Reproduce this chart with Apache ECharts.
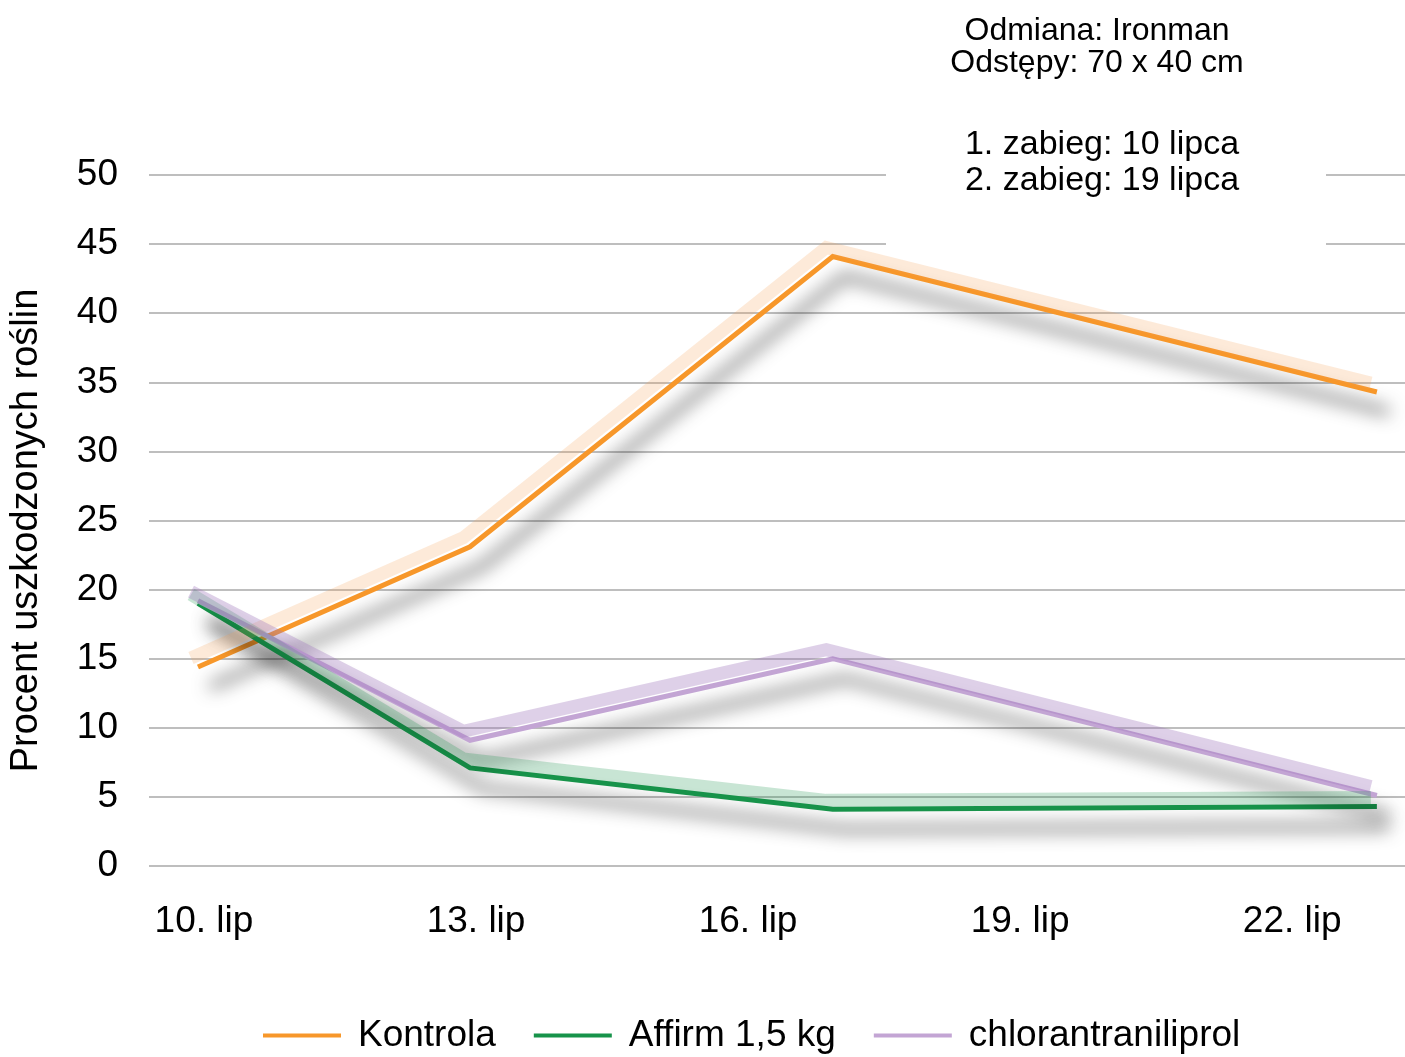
<!DOCTYPE html>
<html>
<head>
<meta charset="utf-8">
<script src="https://cdn.jsdelivr.net/npm/echarts@6/dist/echarts.min.js"></script>
<style>
  html, body { margin: 0; padding: 0; background: #fff; }
  #chart { width: 1405px; height: 1057px; }
</style>
</head>
<body>
<div id="chart"></div>
<script>
// Observation dates (day of July) and damage percentages per treatment
const days = [10, 13, 17, 23];
const kontrola = [14.4, 23.1, 44.1, 34.3];
const affirm = [19.0, 7.1, 4.1, 4.3];
const chlorantraniliprol = [19.2, 9.1, 15.0, 5.1];

const seriesNames = ['Kontrola', 'Affirm 1,5 kg', 'chlorantraniliprol'];
const tickDays = [10, 13, 16, 19, 22];
const yMin = 0, yMax = 50, yStep = 5;

const infoTop = ['Odmiana: Ironman', 'Odstępy: 70 x 40 cm'];
const infoBottom = ['1. zabieg: 10 lipca', '2. zabieg: 19 lipca'];

const FONT = '"Liberation Sans", Arial, Helvetica, sans-serif';
const lineColors = ['#F7972A', '#17934A', '#C3A5D4'];
const ribbonColors = ['rgba(248,160,80,0.22)', 'rgba(24,146,74,0.24)', 'rgba(160,120,190,0.35)'];
const values = [kontrola, affirm, chlorantraniliprol];

const pairs = v => days.map((d, i) => [d, v[i]]);

const xRange = { min: 9.46, max: 23.31 };

const mainSeries = values.map((v, i) => ({
  name: seriesNames[i],
  type: 'line',
  xAxisIndex: 0,
  yAxisIndex: 0,
  data: pairs(v),
  showSymbol: false,
  symbol: 'none',
  clip: false,
  itemStyle: { color: lineColors[i] },
  lineStyle: {
    color: lineColors[i],
    width: 5,
    join: 'miter',
    cap: 'butt',
    shadowColor: 'rgba(0,0,0,0.8)',
    shadowBlur: 18,
    shadowOffsetX: 12,
    shadowOffsetY: 20
  },
  emphasis: { disabled: true }
}));

// Pale raised band above each line, drawn on a slightly shifted copy of the plot
const ribbonSeries = values.map((v, i) => ({
  name: seriesNames[i],
  type: 'line',
  xAxisIndex: 1,
  yAxisIndex: 1,
  data: pairs(v),
  showSymbol: false,
  symbol: 'none',
  clip: false,
  lineStyle: { color: ribbonColors[i], width: 13, join: 'miter', cap: 'butt' },
  emphasis: { disabled: true },
  silent: true
}));

const chart = echarts.init(document.getElementById('chart'), null, { renderer: 'canvas' });

chart.setOption({
  animation: false,
  backgroundColor: '#fff',
  textStyle: { fontFamily: FONT },
  grid: [
    { left: 148, right: 0, top: 175, bottom: 191 },
    { left: 142, right: 6, top: 166, bottom: 200 }
  ],
  xAxis: [
    {
      type: 'value',
      gridIndex: 0,
      min: xRange.min,
      max: xRange.max,
      axisLine: { show: false },
      axisTick: { show: false },
      splitLine: { show: false },
      axisLabel: {
        customValues: tickDays,
        formatter: v => v + '. lip',
        fontSize: 37,
        color: '#000',
        fontFamily: FONT,
        margin: 37,
        padding: [0, 0, 0, 12]
      }
    },
    {
      type: 'value',
      gridIndex: 1,
      min: xRange.min,
      max: xRange.max,
      show: false
    }
  ],
  yAxis: [
    {
      type: 'value',
      gridIndex: 0,
      min: yMin,
      max: yMax,
      interval: yStep,
      name: 'Procent uszkodzonych roślin',
      nameLocation: 'middle',
      nameRotate: 90,
      nameGap: 103,
      nameTextStyle: { fontSize: 38, color: '#000', fontFamily: FONT, padding: [0, 20, 0, 0] },
      axisLine: { show: false },
      axisTick: { show: false },
      axisLabel: { fontSize: 37, color: '#000', fontFamily: FONT, margin: 31, padding: [9, 0, 0, 0] },
      splitLine: { lineStyle: { color: '#a8a8a8', width: 1.5 } }
    },
    {
      type: 'value',
      gridIndex: 1,
      min: yMin,
      max: yMax,
      show: false
    }
  ],
  legend: {
    data: seriesNames,
    left: 263,
    top: 1017,
    padding: 0,
    icon: 'rect',
    itemWidth: 78,
    itemHeight: 4,
    itemGap: 38,
    selectedMode: false,
    textStyle: { fontSize: 37, color: '#000', fontFamily: FONT, padding: [0, 0, 0, 12] }
  },
  graphic: [
    {
      type: 'rect',
      z: 1,
      shape: { x: 886, y: 0, width: 440, height: 252 },
      style: { fill: '#fff' },
      silent: true
    },
    ...infoTop.map((t, i) => ({
      type: 'text',
      z: 3,
      x: 1097,
      y: 31 + i * 32,
      style: { text: t, fontSize: 32, fontFamily: FONT, fill: '#000', textAlign: 'center', textVerticalAlign: 'middle' },
      silent: true
    })),
    ...infoBottom.map((t, i) => ({
      type: 'text',
      z: 3,
      x: 1102,
      y: 145 + i * 36,
      style: { text: t, fontSize: 34, fontFamily: FONT, fill: '#000', textAlign: 'center', textVerticalAlign: 'middle' },
      silent: true
    }))
  ],
  series: [...mainSeries, ...ribbonSeries]
});
</script>
</body>
</html>
